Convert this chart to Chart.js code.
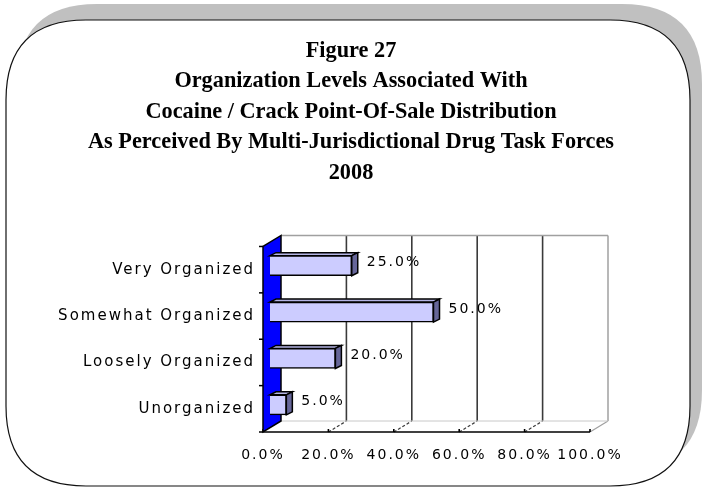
<!DOCTYPE html>
<html><head><meta charset="utf-8">
<script src="https://cdn.jsdelivr.net/npm/chart.js@4"></script>
<style>html,body{margin:0;padding:0;background:#fff;} canvas{display:block;}</style>
</head><body>
<canvas id="c" width="702" height="487"></canvas>
<script>
const titleLines = ["Figure 27", "Organization Levels Associated With", "Cocaine / Crack Point-Of-Sale Distribution", "As Perceived By Multi-Jurisdictional Drug Task Forces", "2008"];
const categories = ["Very Organized", "Somewhat Organized", "Loosely Organized", "Unorganized"];
const values = [25.0, 50.0, 20.0, 5.0];
const tickValues = [0, 20, 40, 60, 80, 100];

const WALL = {dx: 18, dy: -11};
const BAR = {ox: 7, oy: -4, dx: 6, dy: -3};

function rr(ctx, x, y, w, h, r) {
  ctx.beginPath();
  ctx.moveTo(x + r, y);
  ctx.lineTo(x + w - r, y);
  ctx.quadraticCurveTo(x + w, y, x + w, y + r);
  ctx.lineTo(x + w, y + h - r);
  ctx.quadraticCurveTo(x + w, y + h, x + w - r, y + h);
  ctx.lineTo(x + r, y + h);
  ctx.quadraticCurveTo(x, y + h, x, y + h - r);
  ctx.lineTo(x, y + r);
  ctx.quadraticCurveTo(x, y, x + r, y);
  ctx.closePath();
}

const framePlugin = {
  id: 'frame3d',
  beforeDraw(chart) {
    const ctx = chart.ctx;
    ctx.letterSpacing = '0px';
    ctx.save();
    ctx.fillStyle = '#fff';
    ctx.fillRect(0, 0, chart.width, chart.height);
    rr(ctx, 17, 4, 685, 466, 80);
    ctx.fillStyle = '#c0c0c0';
    ctx.fill();
    rr(ctx, 6, 20, 684, 466, 80);
    ctx.fillStyle = '#fff';
    ctx.fill();
    ctx.strokeStyle = '#111';
    ctx.lineWidth = 1.2;
    ctx.stroke();
    ctx.restore();
  },
  beforeDatasetsDraw(chart) {
    const ctx = chart.ctx;
    const xs = chart.scales.x, ys = chart.scales.y;
    const a = chart.chartArea;
    const L = xs.getPixelForValue(0), R = xs.getPixelForValue(100);
    const T = a.top, B = a.bottom;
    const dx = WALL.dx, dy = WALL.dy;
    ctx.save();
    ctx.fillStyle = '#fff';
    ctx.fillRect(L + dx, T + dy, R - L, B - T);
    ctx.beginPath();
    ctx.moveTo(L, B); ctx.lineTo(R, B); ctx.lineTo(R + dx, B + dy); ctx.lineTo(L + dx, B + dy); ctx.closePath();
    ctx.fill();
    tickValues.forEach(v => {
      if (v === 0) return;
      const px = xs.getPixelForValue(v);
      ctx.strokeStyle = v === 100 ? '#a0a0a0' : '#3a3a3a';
      ctx.lineWidth = v === 100 ? 1.5 : 1.6;
      ctx.beginPath();
      ctx.moveTo(px + dx, T + dy); ctx.lineTo(px + dx, B + dy);
      ctx.stroke();
      ctx.setLineDash(v === 100 ? [] : [3, 2]);
      ctx.lineWidth = 1.2;
      ctx.beginPath();
      ctx.moveTo(px, B); ctx.lineTo(px + dx, B + dy);
      ctx.stroke();
      ctx.setLineDash([]);
    });
    ctx.strokeStyle = '#a0a0a0';
    ctx.lineWidth = 1.5;
    ctx.beginPath();
    ctx.moveTo(L + dx, T + dy); ctx.lineTo(R + dx, T + dy);
    ctx.stroke();
    ctx.strokeStyle = '#c8c8c8';
    ctx.lineWidth = 1;
    ctx.beginPath();
    ctx.moveTo(L + dx, B + dy); ctx.lineTo(R + dx, B + dy);
    ctx.stroke();
    ctx.strokeStyle = '#000';
    ctx.lineWidth = 1.6;
    ctx.beginPath();
    ctx.moveTo(L, B); ctx.lineTo(R, B);
    ctx.stroke();
    tickValues.forEach(v => {
      const px = xs.getPixelForValue(v);
      ctx.beginPath(); ctx.moveTo(px, B); ctx.lineTo(px, B - 3); ctx.stroke();
    });
    ctx.beginPath();
    ctx.moveTo(L, T); ctx.lineTo(L + dx, T + dy); ctx.lineTo(L + dx, B + dy); ctx.lineTo(L, B); ctx.closePath();
    ctx.fillStyle = '#0000ff';
    ctx.fill();
    ctx.strokeStyle = '#000';
    ctx.lineWidth = 1.5;
    ctx.stroke();
    const band = (ys.getPixelForValue(1) - ys.getPixelForValue(0));
    for (let i = 0; i <= categories.length; i++) {
      const py = ys.getPixelForValue(i) - band / 2;
      ctx.beginPath(); ctx.moveTo(L - 4, py); ctx.lineTo(L, py); ctx.stroke();
    }
    ctx.restore();
  },
  beforeDatasetDraw(chart, args) {
    const ctx = chart.ctx;
    ctx.save();
    ctx.translate(BAR.ox, BAR.oy);
    args.meta.data.forEach(bar => {
      const p = bar.getProps(['x', 'y', 'base', 'height'], true);
      const left = Math.min(p.base, p.x), right = Math.max(p.base, p.x);
      const top = p.y - p.height / 2, bottom = p.y + p.height / 2;
      ctx.lineWidth = 1.5;
      ctx.strokeStyle = '#000';
      ctx.beginPath();
      ctx.moveTo(left, top); ctx.lineTo(right, top); ctx.lineTo(right + BAR.dx, top + BAR.dy); ctx.lineTo(left + BAR.dx, top + BAR.dy); ctx.closePath();
      ctx.fillStyle = '#b4b4e4'; ctx.fill(); ctx.stroke();
      ctx.beginPath();
      ctx.moveTo(right, top); ctx.lineTo(right + BAR.dx, top + BAR.dy); ctx.lineTo(right + BAR.dx, bottom + BAR.dy); ctx.lineTo(right, bottom); ctx.closePath();
      ctx.fillStyle = '#666699'; ctx.fill(); ctx.stroke();
    });
  },
  afterDatasetDraw(chart) {
    chart.ctx.restore();
  },
  afterDatasetsDraw(chart) {
    const ctx = chart.ctx;
    ctx.letterSpacing = '2px';
    ctx.save();
    ctx.font = '14px "DejaVu Sans"';
    ctx.fillStyle = '#000';
    ctx.textAlign = 'left';
    ctx.textBaseline = 'middle';
    chart.getDatasetMeta(0).data.forEach((bar, i) => {
      ctx.fillText(values[i].toFixed(1) + '%', bar.x + 22, bar.y - 7);
    });
    ctx.restore();
  }
};

new Chart(document.getElementById('c'), {
  type: 'bar',
  data: {
    labels: categories,
    datasets: [{
      data: values,
      backgroundColor: '#ccccff',
      borderColor: '#000',
      borderWidth: 1.5,
      barThickness: 20,
      clip: false
    }]
  },
  options: {
    indexAxis: 'y',
    responsive: false,
    devicePixelRatio: 1,
    animation: false,
    layout: {padding: {left: 0, right: 0, top: 0, bottom: 0}},
    plugins: {
      legend: {display: false},
      tooltip: {enabled: false},
      title: {
        display: true,
        text: titleLines,
        color: '#000',
        font: {family: 'Liberation Serif', size: 22.3, weight: 'bold', lineHeight: 1.372},
        padding: {top: 35.5, bottom: 58}
      }
    },
    scales: {
      x: {
        min: 0, max: 100,
        grid: {display: false, drawTicks: false},
        border: {display: false},
        afterBuildTicks: s => { s.ticks = tickValues.map(v => ({value: v})); },
        ticks: {
          z: 1, padding: 15, color: '#000',
          font: {family: 'DejaVu Sans', size: 14},
          callback: v => Number(v).toFixed(1) + '%'
        },
        afterFit: s => { s.height = 55; }
      },
      y: {
        grid: {display: false, drawTicks: false},
        border: {display: false},
        ticks: {z: 1, padding: 8, color: '#000', font: {family: 'DejaVu Sans', size: 15}},
        afterFit: s => { s.width = 263; }
      },
      yr: {
        position: 'right',
        type: 'linear',
        grid: {display: false, drawTicks: false},
        border: {display: false},
        ticks: {display: false},
        afterFit: s => { s.width = 112; }
      }
    }
  },
  plugins: [framePlugin]
});
</script>
</body></html>
